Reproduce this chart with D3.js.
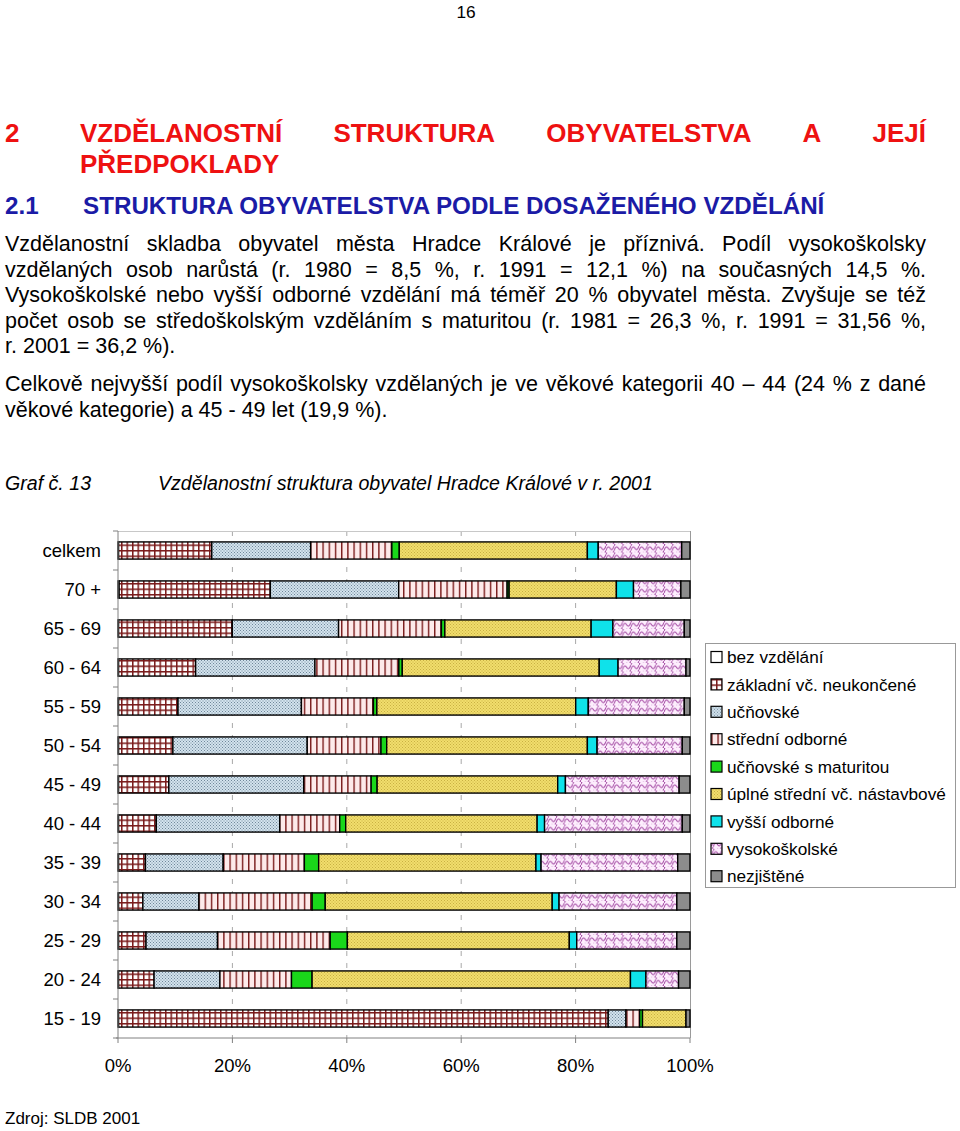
<!DOCTYPE html>
<html><head><meta charset="utf-8">
<script src="https://cdn.jsdelivr.net/npm/d3@7"></script>
<style>
body{margin:0;background:#fff}
svg{display:block}
text{font-family:"Liberation Sans",Arial,sans-serif}
</style>
</head><body>
<svg id="c" width="960" height="1131"></svg>
<script>
// ---------- DATA ----------
const categories = ["celkem","70 +","65 - 69","60 - 64","55 - 59","50 - 54","45 - 49","40 - 44","35 - 39","30 - 34","25 - 29","20 - 24","15 - 19"];
const seriesNames = ["bez vzdělání","základní vč. neukončené","učňovské","střední odborné","učňovské s maturitou","úplné střední vč. nástavbové","vyšší odborné","vysokoškolské","nezjištěné"];
const bezVzdelani    = [0.1, 0.2, 0.1, 0.1, 0.1, 0.1, 0.1, 0.1, 0.1, 0.1, 0.1, 0.1, 0.1];
const zakladni       = [16.3,26.5,19.9,13.5,10.4, 9.5, 8.8, 6.6, 4.7, 4.25,4.8, 6.2,85.6];
const ucnovske       = [17.3,22.5,18.6,20.9,21.6,23.5,23.6,21.6,13.6, 9.8,12.5,11.5, 3.1];
const stredniOdborne = [14.2,19.0,18.0,14.7,12.6,12.9,11.8,10.5,14.2,19.8,19.7,12.5, 2.4];
const ucnovskeMat    = [1.3, 0.35,0.6, 0.6, 0.6, 1.0, 1.05,1.05,2.5, 2.3, 3.0, 3.6, 0.5];
const uplneStredni   = [32.9,18.8,25.6,34.5,34.8,35.1,31.6,33.5,38.0,39.7,38.8,55.6, 7.6];
const vyssiOdborne   = [1.9, 3.0, 3.8, 3.3, 2.2, 1.7, 1.35,1.3, 0.9, 1.2, 1.3, 2.7, 0];
const vysokoskolske  = [14.6, 8.3,12.5,11.9,16.8,14.9,19.9,24.1,23.9,20.6,17.5, 5.7, 0];
const nezjistene     = [1.45,1.6, 1.0, 0.7, 1.0, 1.35,1.9, 1.35,2.15,2.3, 2.3, 2.0, 0.7];
const xTickValues = [0, 0.2, 0.4, 0.6, 0.8, 1];
const xTickLabels = ["0%","20%","40%","60%","80%","100%"];

const seriesArrays = [bezVzdelani,zakladni,ucnovske,stredniOdborne,ucnovskeMat,uplneStredni,vyssiOdborne,vysokoskolske,nezjistene];
const table = categories.map((c,i)=>{
  const o = {cat:c};
  seriesNames.forEach((s,j)=>{ o[s] = seriesArrays[j][i]; });
  return o;
});

// ---------- SVG ----------
const svg = d3.select("#c");

// patterns
const defs = svg.append("defs");
const maroon = "#7a1a1a";
function pat(id,w,h){ return defs.append("pattern").attr("id",id).attr("patternUnits","userSpaceOnUse").attr("width",w).attr("height",h); }
let p;
p = pat("p0",4,4); p.append("rect").attr("width",4).attr("height",4).attr("fill","#fff");
p = pat("p1",5.5,5.5); p.append("rect").attr("width",5.5).attr("height",5.5).attr("fill",maroon);
p.append("rect").attr("x",1.5).attr("y",1.5).attr("width",4).attr("height",4).attr("fill","#fff");
p = pat("p2",3,3); p.append("rect").attr("width",3).attr("height",3).attr("fill","#d3e3ee");
p.append("rect").attr("width",1).attr("height",1).attr("fill","#6f8799");
p.append("rect").attr("x",1.5).attr("y",1.5).attr("width",1).attr("height",1).attr("fill","#6f8799");
p = pat("p3",6.2,10); p.append("rect").attr("width",6.2).attr("height",10).attr("fill","#fdeaea");
p.append("rect").attr("width",1.4).attr("height",10).attr("fill",maroon);
p = pat("p4",4,4); p.append("rect").attr("width",4).attr("height",4).attr("fill","#1ad71a");
p = pat("p5",3,3); p.append("rect").attr("width",3).attr("height",3).attr("fill","#f1de6c");
p.append("rect").attr("width",1).attr("height",1).attr("fill","#c9b043");
p.append("rect").attr("x",1.5).attr("y",1.5).attr("width",1).attr("height",1).attr("fill","#c9b043");
p = pat("p6",4,4); p.append("rect").attr("width",4).attr("height",4).attr("fill","#0fe2ea");
p = pat("p7",8.3,8.5); p.append("rect").attr("width",8.3).attr("height",8.5).attr("fill","#fdeefd");
p.append("path").attr("d","M0,6.5 Q2.1,0.5 4.15,4.25 Q6.2,8 8.3,2").attr("fill","none").attr("stroke","#9b3a9b").attr("stroke-width",1);
p.append("path").attr("d","M0,2 Q2.1,-4 4.15,-0.25 M4.15,8.25 Q6.2,12 8.3,6.5").attr("fill","none").attr("stroke","#9b3a9b").attr("stroke-width",1);
p = pat("p8",4,4); p.append("rect").attr("width",4).attr("height",4).attr("fill","#8c8c8c");

// ---------- page text ----------
function addText(x,y,str,opts={}){
  return svg.append("text").attr("x",x).attr("y",y).text(str)
    .attr("font-size",opts.size||21.5).attr("fill",opts.fill||"#000")
    .attr("font-style",opts.style||"normal").attr("font-weight",opts.weight||"normal")
    .attr("text-anchor",opts.anchor||"start");
}
function justify(words,x0,x1,y,opts={}){
  const nodes = words.map(w=>addText(0,y,w,opts));
  const widths = nodes.map(n=>n.node().getComputedTextLength());
  const gap = (x1-x0-d3.sum(widths))/(words.length-1);
  let x = x0;
  nodes.forEach((n,i)=>{ n.attr("x",x); x += widths[i]+gap; });
}

addText(466,18,"16",{size:17.3,anchor:"middle"});
const red = "#ee1111", blue = "#1b1ba6";
addText(5,142,"2",{size:26,fill:red,weight:"bold"});
justify(["VZDĚLANOSTNÍ","STRUKTURA","OBYVATELSTVA","A","JEJÍ"],80,926,142,{size:26,fill:red,weight:"bold"});
addText(80,173,"PŘEDPOKLADY",{size:26,fill:red,weight:"bold"});
addText(5,214,"2.1",{size:24.2,fill:blue,weight:"bold"});
addText(83,214,"STRUKTURA OBYVATELSTVA PODLE DOSAŽENÉHO VZDĚLÁNÍ",{size:24.2,fill:blue,weight:"bold"});

const BODY = 21.5;
const para = [
  ["Vzdělanostní skladba obyvatel města Hradce Králové je příznivá. Podíl vysokoškolsky",251,true],
  ["vzdělaných osob narůstá (r. 1980 = 8,5 %, r. 1991 = 12,1 %) na současných 14,5 %.",276.5,true],
  ["Vysokoškolské nebo vyšší odborné vzdělání má téměř 20 % obyvatel města. Zvyšuje se též",302,true],
  ["počet osob se středoškolským vzděláním s maturitou (r. 1981 = 26,3 %, r. 1991 = 31,56 %,",327.5,true],
  ["r. 2001 = 36,2 %).",353,false],
  ["Celkově nejvyšší podíl vysokoškolsky vzdělaných je ve věkové kategorii 40 – 44 (24 % z dané",391,true],
  ["věkové kategorie) a 45 - 49 let (19,9 %).",416.5,false]
];
para.forEach(([s,y,j])=>{
  if(j) justify(s.split(" "),5,926,y,{size:BODY});
  else addText(5,y,s,{size:BODY});
});
addText(5,490,"Graf č. 13",{size:19.6,style:"italic"});
addText(158,490,"Vzdělanostní struktura obyvatel Hradce Králové v r. 2001",{size:19.6,style:"italic"});
addText(5,1124,"Zdroj: SLDB 2001",{size:17});

// ---------- chart ----------
const L=118, R=690, T=531, B=1038;
const x = d3.scaleLinear().domain([0,1]).range([L,R]);
const y = d3.scaleBand().domain(categories).range([T,B]).paddingInner(0.56).paddingOuter(0.28);
const yb = d3.scaleBand().domain(categories).range([T,B]);

const g = svg.append("g");
g.selectAll(".grid").data(xTickValues.slice(1,-1)).join("line")
  .attr("x1",d=>x(d)).attr("x2",d=>x(d)).attr("y1",T).attr("y2",B)
  .attr("stroke","#a8a8a8").attr("stroke-width",1).attr("stroke-dasharray","5,7");
g.append("line").attr("x1",L).attr("x2",R).attr("y1",T+0.5).attr("y2",T+0.5).attr("stroke","#c8c8c8");
g.append("line").attr("x1",R+0.5).attr("x2",R+0.5).attr("y1",T).attr("y2",B).attr("stroke","#9a9a9a");

const stack = d3.stack().keys(seriesNames).offset(d3.stackOffsetExpand);
const layers = stack(table);
g.selectAll(".layer").data(layers).join("g").attr("fill",(d,i)=>`url(#p${i})`)
  .selectAll("rect").data(d=>d.filter(s=>s[1]-s[0]>0)).join("rect")
  .attr("x",d=>x(d[0])).attr("width",d=>x(d[1])-x(d[0]))
  .attr("y",d=>y(d.data.cat)).attr("height",y.bandwidth())
  .attr("stroke","#000").attr("stroke-width",1.4);

const yAxis = g.append("g");
yAxis.append("line").attr("x1",L).attr("x2",L).attr("y1",T).attr("y2",B).attr("stroke","#808080");
const bounds = categories.map(c=>yb(c)).concat([B]);
yAxis.selectAll(".tk").data(bounds).join("line").attr("x1",L-5).attr("x2",L).attr("y1",d=>d).attr("y2",d=>d).attr("stroke","#808080");
yAxis.selectAll(".lb").data(categories).join("text")
  .attr("x",101).attr("y",d=>y(d)+y.bandwidth()/2).attr("dy","0.36em")
  .attr("text-anchor","end").attr("font-size",18.5).text(d=>d);

const xAxis = g.append("g");
xAxis.append("line").attr("x1",L-2).attr("x2",R).attr("y1",B).attr("y2",B).attr("stroke","#808080");
xAxis.selectAll(".tk").data(xTickValues).join("line").attr("x1",d=>x(d)).attr("x2",d=>x(d)).attr("y1",B).attr("y2",B+5).attr("stroke","#808080");
xAxis.selectAll(".lb").data(xTickValues).join("text")
  .attr("x",d=>x(d)).attr("y",1072).attr("text-anchor","middle").attr("font-size",18.5)
  .text((d,i)=>xTickLabels[i]);

const lg = svg.append("g").attr("transform","translate(705,643)");
lg.append("rect").attr("x",0.5).attr("y",0.5).attr("width",250).attr("height",244).attr("fill","#fff").attr("stroke","#999");
const li = lg.selectAll(".li").data(seriesNames).join("g").attr("transform",(d,i)=>`translate(0,${14+i*27.4})`);
li.append("rect").attr("x",6).attr("y",-5.5).attr("width",11).attr("height",11).attr("fill",(d,i)=>`url(#p${i})`).attr("stroke","#000").attr("stroke-width",1.2);
li.append("text").attr("x",22).attr("y",0).attr("dy","0.36em").attr("font-size",17.2).text(d=>d);
</script>
</body></html>
